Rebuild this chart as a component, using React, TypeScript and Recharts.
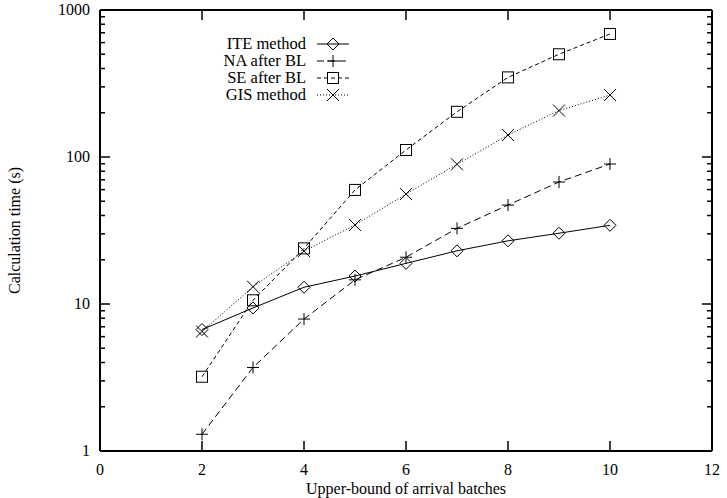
import React from 'react'
import { LineChart, Line, XAxis, YAxis } from 'recharts'

// 批次上限 (x)
const batches = [2, 3, 4, 5, 6, 7, 8, 9, 10]
// 計算時間 (秒)
const iteMethod = [6.7, 9.4, 13.0, 15.5, 18.9, 23.0, 26.9, 30.3, 34.3]
const naAfterBL = [1.3, 3.7, 7.9, 14.6, 20.8, 32.7, 47.1, 67.6, 89.6]
const seAfterBL = [3.2, 10.6, 23.9, 59.7, 111.6, 203, 348, 500, 687]
const gisMethod = [6.5, 13.1, 22.9, 34.5, 56, 89.2, 141, 207, 264]

const xTicks = [0, 2, 4, 6, 8, 10, 12]
const yMajor = [1, 10, 100, 1000]
const yTicks = [1, 2, 3, 4, 5, 6, 7, 8, 9, 10, 20, 30, 40, 50, 60, 70, 80, 90, 100, 200, 300, 400, 500, 600, 700, 800, 900, 1000]

const FONT = '"Liberation Serif", "Times New Roman", serif'

const data = batches.map((b, i) => ({
  x: b,
  ite: iteMethod[i],
  na: naAfterBL[i],
  se: seAfterBL[i],
  gis: gisMethod[i],
}))

type Shape = 'diamond' | 'plus' | 'square' | 'cross'

function Marker({ cx, cy, shape }: { cx: number; cy: number; shape: Shape }) {
  const s = 6
  const common = { stroke: '#000', strokeWidth: 1, fill: 'none' }
  if (shape === 'diamond') {
    return <path d={`M${cx},${cy - s}L${cx + s},${cy}L${cx},${cy + s}L${cx - s},${cy}Z`} {...common} />
  }
  if (shape === 'plus') {
    return <path d={`M${cx - s},${cy}H${cx + s}M${cx},${cy - s}V${cy + s}`} {...common} />
  }
  if (shape === 'square') {
    return <rect x={cx - 5.5} y={cy - 5.5} width={11} height={11} {...common} />
  }
  return <path d={`M${cx - s},${cy - s}L${cx + s},${cy + s}M${cx - s},${cy + s}L${cx + s},${cy - s}`} {...common} />
}

const series: { key: string; name: string; shape: Shape; dash?: string }[] = [
  { key: 'ite', name: 'ITE method', shape: 'diamond' },
  { key: 'na', name: 'NA after BL', shape: 'plus', dash: '7 4' },
  { key: 'se', name: 'SE after BL', shape: 'square', dash: '4 3' },
  { key: 'gis', name: 'GIS method', shape: 'cross', dash: '1 2' },
]

function renderDot(shape: Shape) {
  return (p: any) => <Marker key={`${shape}-${p.index}`} cx={p.cx} cy={p.cy} shape={shape} />
}

// 自訂刻度：刻度線朝內
function BottomTick(p: any) {
  const v = p.payload.value
  const edge = v === 0 || v === 12
  return (
    <g>
      {!edge && <line x1={p.x} y1={p.y} x2={p.x} y2={p.y - 10} stroke="#000" strokeWidth={1.5} />}
      <text x={p.x} y={p.y + 24} textAnchor="middle" fontSize={16} fontFamily={FONT} fill="#000">
        {v}
      </text>
    </g>
  )
}

function TopTick(p: any) {
  const v = p.payload.value
  if (v === 0 || v === 12) return <g />
  return <line x1={p.x} y1={p.y} x2={p.x} y2={p.y + 10} stroke="#000" strokeWidth={1.5} />
}

function LeftTick(p: any) {
  const v = p.payload.value
  const major = yMajor.includes(v)
  const len = major ? 10 : 5
  return (
    <g>
      {v !== 1 && v !== 1000 && (
        <line x1={p.x} y1={p.y} x2={p.x + len} y2={p.y} stroke="#000" strokeWidth={1.5} />
      )}
      {major && (
        <text x={p.x - 10} y={p.y + 5} textAnchor="end" fontSize={16} fontFamily={FONT} fill="#000">
          {v}
        </text>
      )}
    </g>
  )
}

function RightTick(p: any) {
  const v = p.payload.value
  const major = yMajor.includes(v)
  const len = major ? 10 : 5
  if (v === 1 || v === 1000) return <g />
  return <line x1={p.x} y1={p.y} x2={p.x - len} y2={p.y} stroke="#000" strokeWidth={1.5} />
}

function LegendBox() {
  const rowY = [8, 25, 42, 59]
  return (
    <svg width={190} height={70} style={{ position: 'absolute', left: 180, top: 36, overflow: 'visible' }}>
      {series.map((s, i) => (
        <g key={s.key}>
          <text x={126} y={rowY[i] + 5} textAnchor="end" fontSize={16.5} fontFamily={FONT} fill="#000">
            {s.name}
          </text>
          <line x1={137} y1={rowY[i]} x2={169} y2={rowY[i]} stroke="#000" strokeWidth={1} strokeDasharray={s.dash} />
          <Marker cx={153} cy={rowY[i]} shape={s.shape} />
        </g>
      ))}
    </svg>
  )
}

export default function App() {
  return (
    <div style={{ position: 'absolute', left: 0, top: 0, width: 727, height: 498, background: '#fff' }}>
      <LineChart
        width={727}
        height={498}
        data={data}
        margin={{ top: 9, right: 0, bottom: 0, left: 0 }}
        style={{ fontFamily: FONT }}
      >
        <XAxis
          xAxisId="b"
          dataKey="x"
          type="number"
          domain={[0, 12]}
          ticks={xTicks}
          interval={0}
          height={47}
          tickSize={0}
          tickMargin={0}
          tickLine={false}
          axisLine={{ stroke: '#000', strokeWidth: 2 }}
          tick={BottomTick}
          label={{ value: 'Upper-bound of arrival batches', position: 'insideBottom', offset: 4, fontSize: 16, fill: '#000', fontFamily: FONT }}
        />
        <XAxis
          xAxisId="t"
          orientation="top"
          dataKey="x"
          type="number"
          domain={[0, 12]}
          ticks={xTicks}
          interval={0}
          height={1}
          tickSize={0}
          tickMargin={0}
          tickLine={false}
          axisLine={{ stroke: '#000', strokeWidth: 2 }}
          tick={TopTick}
        />
        <YAxis
          yAxisId="l"
          scale="log"
          type="number"
          domain={[1, 1000]}
          allowDataOverflow
          ticks={yTicks}
          interval={0}
          width={100}
          tickSize={0}
          tickMargin={0}
          tickLine={false}
          axisLine={{ stroke: '#000', strokeWidth: 2 }}
          tick={LeftTick}
          label={{ value: 'Calculation time (s)', angle: -90, position: 'insideLeft', offset: 14, fontSize: 16, fill: '#000', fontFamily: FONT, style: { textAnchor: 'middle' } }}
        />
        <YAxis
          yAxisId="r"
          orientation="right"
          scale="log"
          type="number"
          domain={[1, 1000]}
          allowDataOverflow
          ticks={yTicks}
          interval={0}
          width={15}
          tickSize={0}
          tickMargin={0}
          tickLine={false}
          axisLine={{ stroke: '#000', strokeWidth: 2 }}
          tick={RightTick}
        />
        {series.map((s) => (
          <Line
            key={s.key}
            xAxisId="b"
            yAxisId="l"
            dataKey={s.key}
            name={s.name}
            type="linear"
            stroke="#000"
            strokeWidth={1}
            strokeDasharray={s.dash}
            dot={renderDot(s.shape)}
            isAnimationActive={false}
          />
        ))}
      </LineChart>
      <LegendBox />
    </div>
  )
}
